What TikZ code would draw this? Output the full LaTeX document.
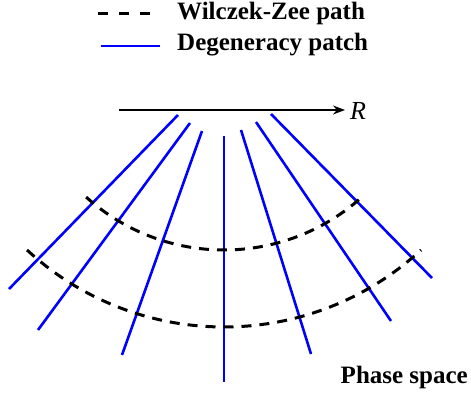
\documentclass[tikz,border=0pt]{standalone}
\usepackage{fontspec}
\setmainfont{Liberation Serif}
\usepackage{xcolor}
\usepackage{tikz}
\usetikzlibrary{arrows.meta, positioning}

\tikzset{
  wzpath/.style={line width=3pt, dash pattern=on 10pt off 8pt},
  patch/.style={blue, line width=2.6pt},
  lbl/.style={font=\fontsize{25}{28}\selectfont\bfseries, inner sep=0pt}
}

\begin{document}
\begin{tikzpicture}[x=1pt, y=-1pt]
      \useasboundingbox (0,0) rectangle (471,396);

      % legend
      \coordinate (wzA) at (98,14);
      \coordinate (wzB) at (152,14);
      \coordinate (dpA) at (101,46);
      \coordinate (dpB) at (160,46);
      \draw[wzpath, dash pattern=on 10pt off 11pt] (wzA) -- (wzB);
      \draw[patch] (dpA) -- (dpB);
      \node[lbl, anchor=base west] (wzlbl) at (177,20) {Wilczek-Zee path};
      \node[lbl, anchor=base west] (dplbl) at (177,51) {Degeneracy patch};

      % R axis
      \coordinate (axA) at (119,110);
      \coordinate (axB) at (345,110);
      \draw[line width=1.6pt, -{Stealth[length=12pt, width=9pt]}] (axA) -- (axB);
      \node[font=\fontsize{26}{28}\selectfont\itshape, inner sep=0pt, anchor=base west] (rlbl) at (350,119) {R};

      % degeneracy patches
      \foreach \xa/\ya/\xb/\yb in {178/115/9/289, 190/123/38/330, 202/131/122/355,
                                   224/136/224/382, 241/130/311/354,
                                   256/122/391/321, 271/114/432/278}{
        \draw[patch] (\xa,\ya) -- (\xb,\yb);
      }

      % Wilczek-Zee paths
      \draw[wzpath] (224,44) ++(132:206) arc[start angle=132, end angle=48, radius=206];
      \draw[wzpath] (224,36.5) ++(132.7:290.5) arc[start angle=132.7, end angle=47.3, radius=290.5];

      \node[lbl, anchor=base east] (phase) at (468,383) {Phase space};
\end{tikzpicture}
\end{document}
